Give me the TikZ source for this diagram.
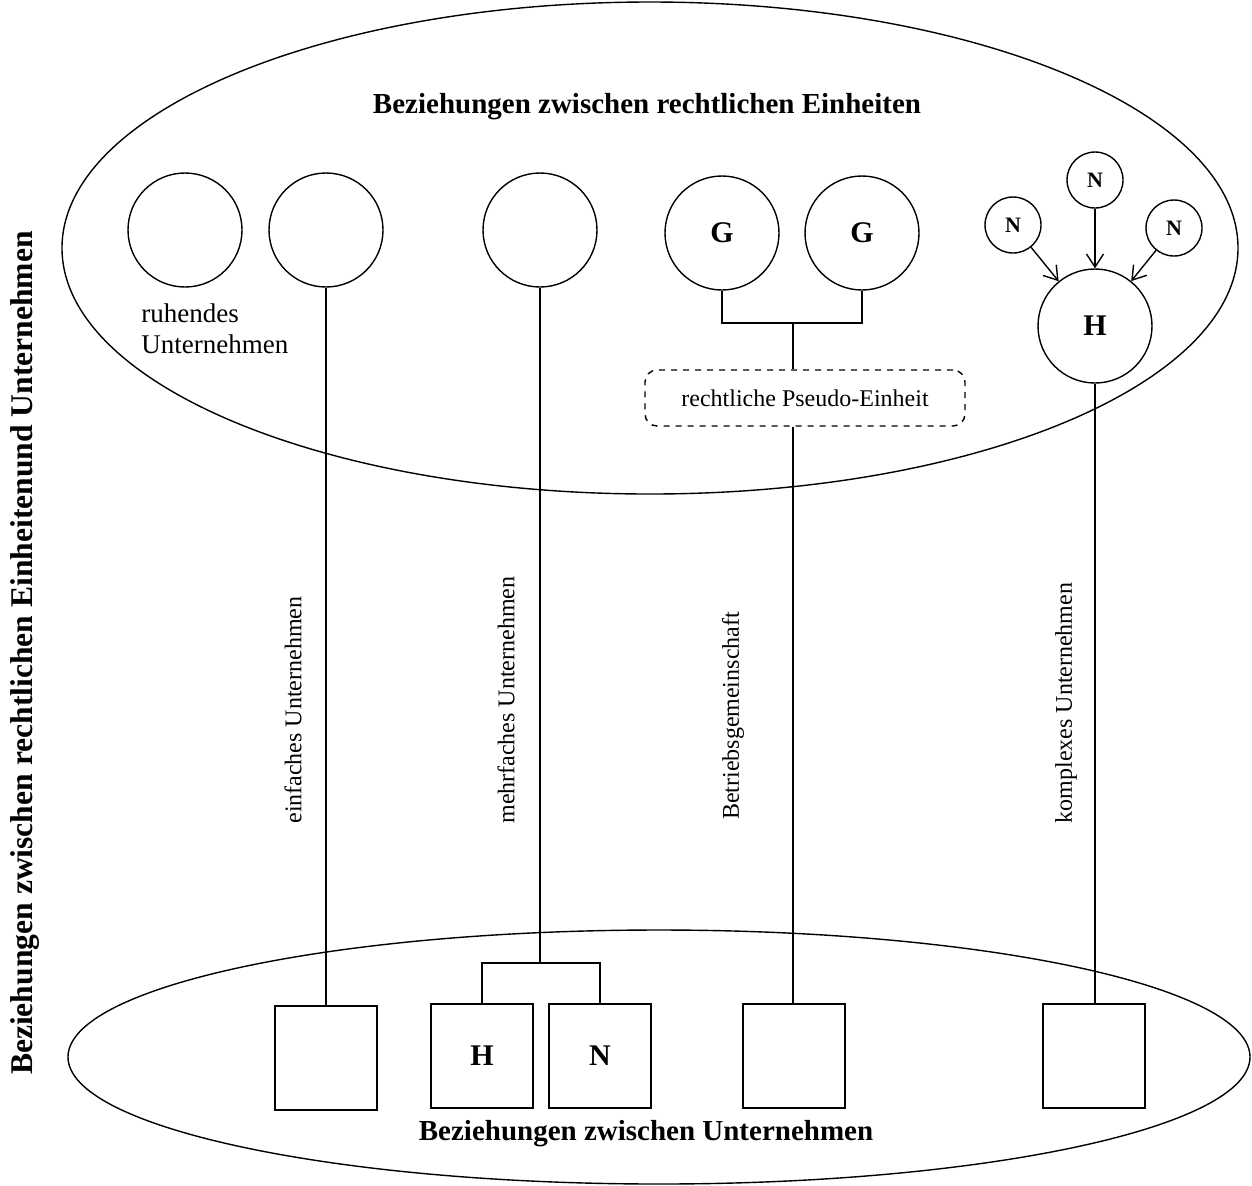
\documentclass[tikz,border=0pt]{standalone}
\usepackage{fontspec}
\setmainfont{Liberation Serif}
\usetikzlibrary{arrows.meta}
\begin{document}
\begin{tikzpicture}[x=0.5pt,y=-0.5pt,
  line width=0.7pt,
  ent/.style={draw,circle,minimum size=57pt,inner sep=0pt,font=\fontsize{15}{17}\bfseries\selectfont},
  small/.style={draw,circle,minimum size=28pt,inner sep=0pt,font=\fontsize{11}{13}\bfseries\selectfont},
  unt/.style={draw,rectangle,minimum width=51pt,minimum height=52pt,inner sep=0pt,font=\fontsize{15}{17}\bfseries\selectfont},
  lbl/.style={font=\fontsize{12}{14}\selectfont},
  title/.style={font=\fontsize{14.5}{17}\bfseries\selectfont},
  arr/.style={-{Straight Barb[length=6.5pt,width=8.5pt]}}]
\useasboundingbox (0,0) rectangle (1252,1185);
% ellipses
\draw (650,248) ellipse [x radius=588, y radius=246];
\draw (659,1057) ellipse [x radius=591, y radius=127];
% titles
\node[title] (t1) at (647,107) {Beziehungen zwischen rechtlichen Einheiten};
\node[title] (t2) at (646,1134) {Beziehungen zwischen Unternehmen};
\node[font=\fontsize{15.8}{18}\bfseries\selectfont,rotate=90] (t3) at (25,653) {Beziehungen zwischen rechtlichen Einheitenund Unternehmen};
% top row circles
\node[ent] (c1) at (185,230) {};
\node[ent] (c2) at (326,230) {};
\node[ent] (c3) at (540,230) {};
\node[ent] (g1) at (722,233) {G};
\node[ent] (g2) at (862,233) {G};
\node[ent] (h) at (1095,326) {H};
\node[small] (n1) at (1013,225) {N};
\node[small] (n2) at (1095,180) {N};
\node[small] (n3) at (1174,228) {N};
\node[font=\fontsize{13.5}{15.5}\selectfont,align=left,anchor=north west] (ruh) at (134,296) {ruhendes\\Unternehmen};
\node[lbl,draw,dashed,rounded corners=6pt,minimum width=160pt,minimum height=28pt] (pseudo) at (805,398) {rechtliche Pseudo-Einheit};
% squares
\node[unt] (s1) at (326,1058) {};
\node[unt] (sh) at (482,1056) {H};
\node[unt] (sn) at (600,1056) {N};
\node[unt] (s3) at (794,1056) {};
\node[unt] (s4) at (1094,1056) {};
% coordinates
\coordinate (b1) at (540,963);
\coordinate (gj) at (793,323);
% connectors
\draw (c2.south) -- (c2.south |- s1.north);
\draw (c3.south) -- (b1);
\draw (sh.north) |- (b1) -| (sn.north);
\draw (g1.south) |- (gj) -| (g2.south);
\draw (gj) -- (gj |- pseudo.north);
\draw (pseudo.south -| gj) -- (gj |- s3.north);
\draw (h.south) -- (h.south |- s4.north);
\draw[arr] (n2) -- (h);
\draw[arr] (n1) -- (h);
\draw[arr] (n3) -- (h);
% vertical labels
\node[lbl,rotate=90] (l1) at (293,710) {einfaches Unternehmen};
\node[lbl,rotate=90] (l2) at (506,700) {mehrfaches Unternehmen};
\node[lbl,rotate=90] (l3) at (733,716) {Betriebsgemeinschaft};
\node[lbl,rotate=90] (l4) at (1066,703) {komplexes Unternehmen};
\end{tikzpicture}
\end{document}
